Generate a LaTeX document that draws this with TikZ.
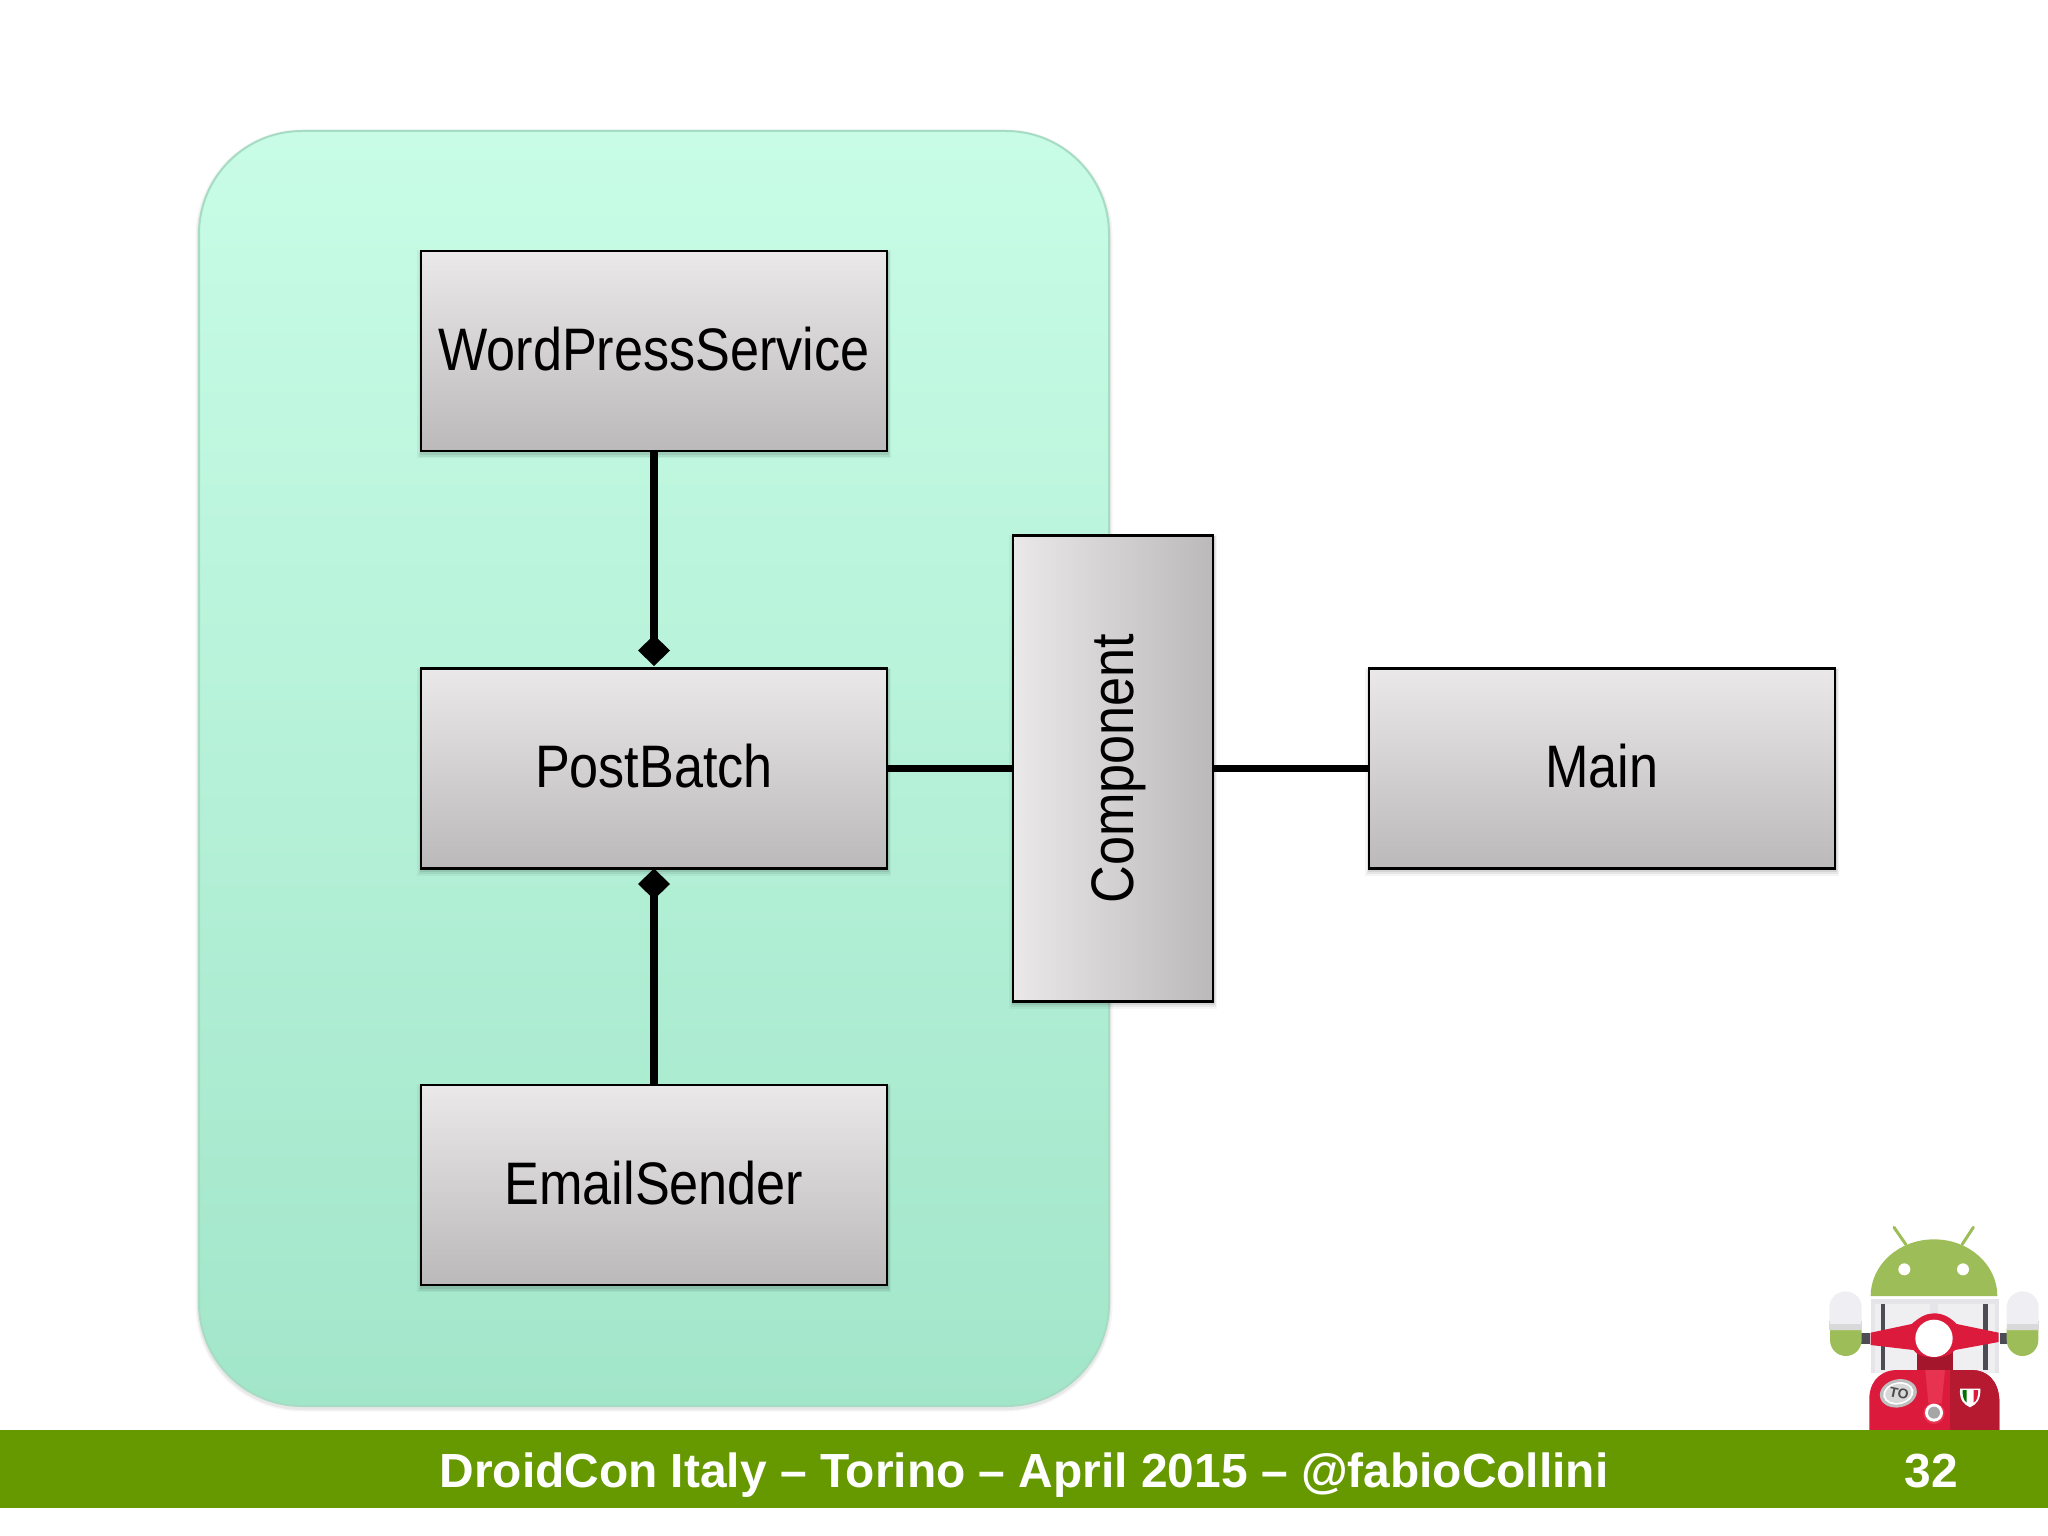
\documentclass[tikz,border=0pt]{standalone}
\usepackage{fontspec}
\usetikzlibrary{arrows.meta}
\setmainfont{Liberation Sans}
\newfontfamily\boxfont[FakeStretch=0.87]{Liberation Sans}
\newfontfamily\footfont{Liberation Sans}
\definecolor{regiontop}{HTML}{C8FCE6}
\definecolor{regionbot}{HTML}{A2E6CA}
\definecolor{regionedge}{HTML}{A6DCC4}
\definecolor{boxtop}{HTML}{EAE8E9}
\definecolor{boxbot}{HTML}{BCB9BA}
\definecolor{footgreen}{HTML}{669900}
\definecolor{droid}{HTML}{9DBD58}
\definecolor{glove}{HTML}{EFEFF3}
\definecolor{screenc}{HTML}{E4E4E9}
\definecolor{bardark}{HTML}{4C4C54}
\definecolor{vred}{HTML}{DC1B3C}
\definecolor{vdark}{HTML}{B51A30}
\definecolor{vneck}{HTML}{A4162C}
\definecolor{vlight}{HTML}{E83350}
\tikzset{
  softshadow/.style={
    preaction={draw=black,draw opacity=.04,line width=8pt,transform canvas={yshift=-3pt}},
    preaction={draw=black,draw opacity=.06,line width=5pt,transform canvas={yshift=-3pt}},
    preaction={draw=black,draw opacity=.08,line width=3pt,transform canvas={yshift=-2pt}}},
  umlbox/.style={softshadow,rectangle,draw=black,line width=2.5pt,outer sep=0pt,inner sep=0pt,
    minimum width=466pt,minimum height=200pt,top color=boxtop,bottom color=boxbot,
    font=\boxfont\fontsize{60}{72}\selectfont,text=black,text height=46pt,text depth=8pt},
  regionbox/.style={rectangle,rounded corners=103pt,draw=regionedge,line width=2pt,
    preaction={draw=black,draw opacity=.04,line width=7pt,transform canvas={yshift=-2pt}},
    preaction={draw=black,draw opacity=.05,line width=4pt,transform canvas={yshift=-2pt}},
    minimum width=910pt,minimum height=1275pt,outer sep=0pt,top color=regiontop,bottom color=regionbot},
  linkline/.style={line width=7.5pt,draw=black},
  composed/.style={linkline,-{Diamond[length=31pt,width=32pt]}},
  foottext/.style={text=white,font=\footfont\bfseries\fontsize{47.9}{57}\selectfont,inner sep=0pt,anchor=base}
}
\begin{document}
\begin{tikzpicture}[x=1pt,y=-1pt]
\useasboundingbox (0,0) rectangle (2048,1536);
\fill[white] (0,0) rectangle (2048,1536);
\node[regionbox] (region) at (654,768.5) {};
\node[umlbox] (wp) at (654,351) {WordPressService};
\node[umlbox] (pb) at (654,768.5) {PostBatch};
\node[umlbox] (es) at (654,1185) {EmailSender};
\node[umlbox] (main) at (1602,768.5) {Main};
\node[umlbox,rotate=90,minimum width=466pt,left color=boxtop,right color=boxbot,text height=48pt,text depth=8pt] (comp) at (1113,768.5) {Component};
\draw[composed,shorten >=2.5pt] (wp.south) -- (pb.north);
\draw[composed] (es.north) -- (pb.south);
\draw[linkline] (pb.east) -- (comp.north);
\draw[linkline] (comp.south) -- (main.west);
% logo
\begin{scope}[shift={(1780,1200)},x=0.33333pt,y=-0.33333pt]
  \fill[screenc] (272,296) rectangle (656,520);
  \fill[screenc!60!white] (284,312) rectangle (644,520);
  \fill[screenc] (450,312) rectangle (474,360);
  \fill[bardark] (302,312) rectangle (316,510);
  \fill[bardark] (610,312) rectangle (624,510);
  \draw[droid,line width=3pt,line cap=round] (342,82) -- (378,134);
  \draw[droid,line width=3pt,line cap=round] (580,82) -- (546,134);
  \fill[droid] (272,288) arc[start angle=180,end angle=360,x radius=190,y radius=170] -- cycle;
  \fill[white] (373,208) circle[radius=18];
  \fill[white] (549,208) circle[radius=18];
  \fill[bardark] (243,400) rectangle (270,432);
  \fill[bardark] (660,400) rectangle (686,432);
  \fill[droid] (150,385) -- (245,385) -- (245,420) arc[start angle=0,end angle=180,x radius=47.5,y radius=48] -- cycle;
  \fill[droid] (680,385) -- (775,385) -- (775,420) arc[start angle=0,end angle=180,x radius=47.5,y radius=48] -- cycle;
  \fill[glove] (148,390) -- (148,322) arc[start angle=180,end angle=360,x radius=48.5,y radius=48] -- (245,390) -- cycle;
  \fill[glove] (680,390) -- (680,322) arc[start angle=180,end angle=360,x radius=48,y radius=48] -- (776,390) -- cycle;
  \fill[black!15] (148,364) rectangle (245,390);
  \fill[black!15] (680,364) rectangle (776,390);
  \fill[glove] (150,362) rectangle (243,372);
  \fill[glove] (682,362) rectangle (774,372);
  \fill[vneck] (410,455) rectangle (518,520);
  \fill[vred] (268,690) -- (268,590) .. controls (272,535) and (310,510) .. (350,510)
     -- (575,510) .. controls (620,510) and (655,540) .. (658,600) -- (658,690) -- cycle;
  \fill[vdark] (510,510) -- (575,510) .. controls (620,510) and (655,540) .. (658,600) -- (658,690) -- (510,690) -- cycle;
  \fill[vlight] (436,510) -- (495,510) -- (485,610) -- (445,610) -- cycle;
  \fill[vred] (272,398) -- (395,372) .. controls (420,350) and (440,340) .. (462,340)
     .. controls (490,340) and (510,352) .. (530,372) -- (656,398) -- (656,426) -- (525,450)
     .. controls (505,480) and (420,480) .. (400,450) -- (272,435) -- cycle;
  \fill[white] (462,415) circle[radius=56];
  \fill[vlight] (462,640) circle[radius=32];
  \fill[white] (462,638) circle[radius=27];
  \fill[black!35] (462,638) circle[radius=18];
  \fill[black!25,rotate around={12:(355,580)}] (355,580) ellipse[x radius=56,y radius=42];
  \fill[white,rotate around={12:(355,580)}] (355,580) ellipse[x radius=46,y radius=33];
  \fill[black!15,rotate around={12:(355,580)}] (355,580) ellipse[x radius=40,y radius=28];
  \node[rotate=-12,text=black!70,font=\bfseries\fontsize{14}{14}\selectfont,inner sep=0pt] (tobadge) at (357,580) {TO};
  \fill[white] (540,566) -- (601,566) .. controls (602,600) and (590,612) .. (570,622)
     .. controls (550,612) and (538,600) .. (540,566) -- cycle;
  \fill[green!45!black] (548,570) -- (560,570) -- (560,608) .. controls (552,602) and (547,592) .. (548,570) -- cycle;
  \fill[vred] (581,570) -- (594,570) .. controls (595,592) and (590,602) .. (581,608) -- cycle;
\end{scope}
\fill[footgreen] (0,1430) rectangle (2048,1508);
\node[foottext] (foot) at (1024,1487) {DroidCon Italy – Torino – April 2015 – @fabioCollini};
\node[foottext] (page) at (1931,1487) {32};
\end{tikzpicture}
\end{document}
